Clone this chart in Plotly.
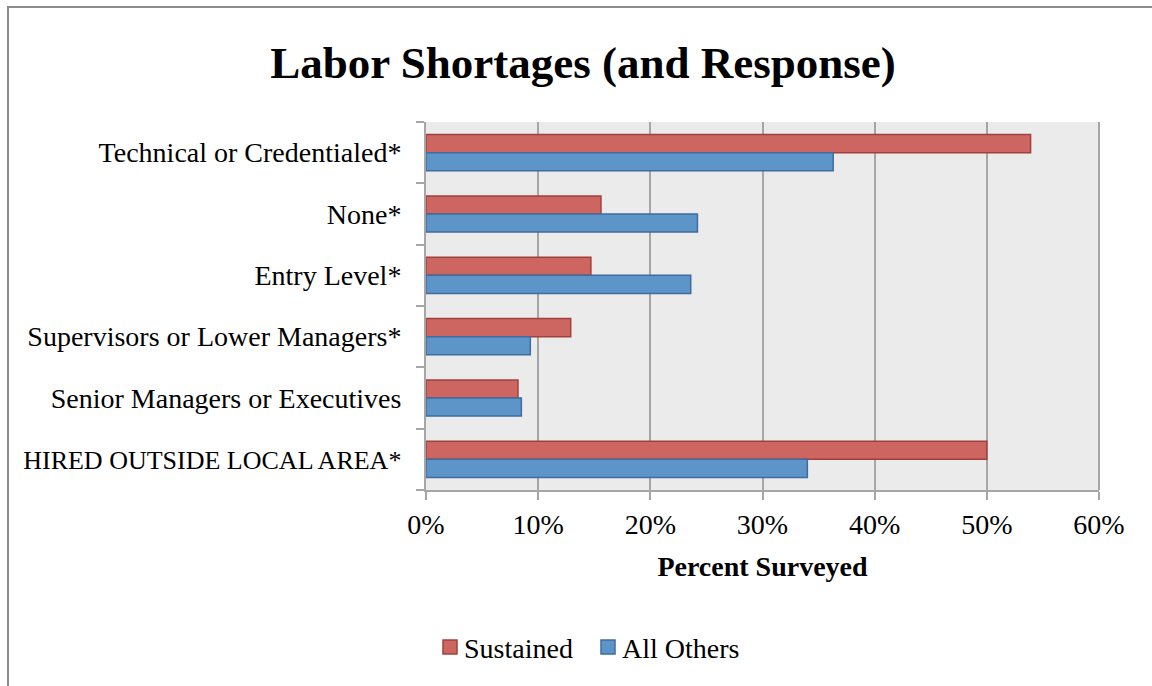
import plotly.graph_objects as go

# Shortage categories, listed top to bottom
categories = [
    "Technical or Credentialed*",
    "None*",
    "Entry Level*",
    "Supervisors or Lower Managers*",
    "Senior Managers or Executives",
    "HIRED OUTSIDE LOCAL AREA*",
]

# Percent of respondents in each group
sustained = [53.9, 15.6, 14.7, 12.9, 8.2, 50.0]
all_others = [36.3, 24.2, 23.6, 9.3, 8.5, 34.0]

x_ticks = [0, 10, 20, 30, 40, 50, 60]
x_tick_labels = [f"{v}%" for v in x_ticks]

series_names = ["Sustained", "All Others"]
fill_colors = ["#cd6560", "#5e95c9"]
edge_colors = ["#a0413d", "#3e6c9e"]

FONT = "Liberation Serif"
GRID = "#a6a6a6"

# The all-caps label is set a touch smaller so it fits beside the axis
y_tick_text = [
    f'<span style="font-size:26px">{c}</span>' if c.isupper() else c
    for c in categories
]

fig = go.Figure()
for name, vals, fc, ec in zip(series_names, [sustained, all_others],
                              fill_colors, edge_colors):
    fig.add_trace(go.Bar(
        name=name, y=categories, x=vals, orientation="h",
        marker=dict(color=fc, line=dict(color=ec, width=1.5)),
        showlegend=False,
    ))

W, H = 1152, 686
L, R, T, B = 426, 1099, 122, 490
pw, ph = R - L, B - T


def px_x(v):
    return (v - L) / pw


def px_y(v):
    return (B - v) / ph


fig.update_layout(
    width=W, height=H,
    margin=dict(l=L, r=W - R, t=T, b=H - B, pad=0, autoexpand=False),
    paper_bgcolor="white",
    plot_bgcolor="#ebebeb",
    barmode="group",
    bargap=0.41,
    bargroupgap=0,
    font=dict(family=FONT, size=28, color="black"),
    title=dict(
        text="<b>Labor Shortages (and Response)</b>",
        font=dict(family=FONT, size=45, color="black"),
        x=583 / W, xanchor="center",
        y=1 - 62 / H, yanchor="middle",
    ),
    xaxis=dict(
        range=[0, 60], tickvals=x_ticks, ticktext=x_tick_labels,
        showgrid=True, gridcolor=GRID, gridwidth=2,
        showline=True, linecolor=GRID, linewidth=2,
        ticks="outside", ticklen=8, tickwidth=2, tickcolor=GRID,
        zeroline=False, automargin=False,
        title=dict(text="<b>Percent Surveyed</b>", standoff=18,
                   font=dict(family=FONT, size=28)),
        tickfont=dict(family=FONT, size=28),
    ),
    yaxis=dict(
        autorange="reversed",
        tickvals=categories, ticktext=y_tick_text,
        showline=True, linecolor=GRID, linewidth=2,
        ticks="outside", ticklen=8, tickwidth=2, tickcolor=GRID,
        tickson="boundaries", showgrid=False,
        ticklabelstandoff=17, automargin=False,
        tickfont=dict(family=FONT, size=28),
    ),
    showlegend=False,
)

# Chart frame
fig.add_shape(
    type="rect", xref="paper", yref="paper",
    x0=px_x(8), x1=px_x(1170), y0=px_y(7), y1=px_y(710),
    line=dict(color="#8c8c8c", width=2), fillcolor="rgba(0,0,0,0)",
    layer="below",
)
# Right edge of plot area
fig.add_shape(
    type="line", xref="paper", yref="paper",
    x0=1, x1=1, y0=0, y1=1, line=dict(color=GRID, width=2),
)

# Legend: swatch + label for each series
legend_y = 648
for name, fc, ec, sx in zip(series_names, fill_colors, edge_colors, [443, 601]):
    fig.add_shape(
        type="rect", xref="paper", yref="paper",
        x0=px_x(sx), x1=px_x(sx + 14),
        y0=px_y(legend_y - 8), y1=px_y(legend_y + 6),
        line=dict(color=ec, width=1.5), fillcolor=fc,
    )
    fig.add_annotation(
        xref="paper", yref="paper", x=px_x(sx + 19), y=px_y(legend_y),
        text=name, showarrow=False, xanchor="left", yanchor="middle",
        font=dict(family=FONT, size=28, color="black"),
    )

fig.write_html("out.html")
